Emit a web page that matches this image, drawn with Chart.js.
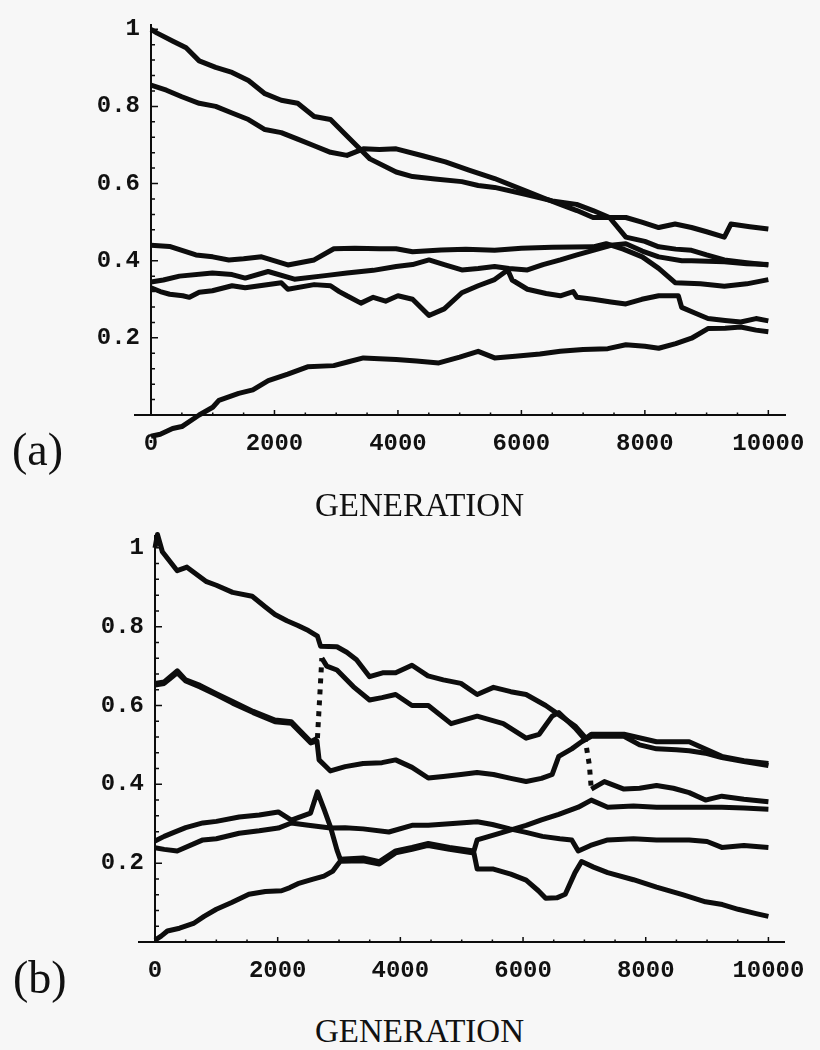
<!DOCTYPE html>
<html>
<head>
<meta charset="utf-8">
<title>Generation plots</title>
<script src="https://cdn.jsdelivr.net/npm/chart.js@4.4.1/dist/chart.umd.min.js"></script>
<style>
  html, body { margin: 0; padding: 0; background: #f7f7f7; }
  body { width: 820px; height: 1050px; position: relative; overflow: hidden; }
  canvas { position: absolute; left: 0; }
  #chartA { top: 0; }
  #chartB { top: 480px; }
  .panel { position: absolute; font-family: "Liberation Serif", serif; font-size: 46px; line-height: 1; color: #111; }
  .xtitle { position: absolute; left: 315px; font-family: "Liberation Serif", serif; font-size: 33px; line-height: 1; color: #111; }
</style>
</head>
<body>
<canvas id="chartA" width="820" height="480"></canvas>
<canvas id="chartB" width="820" height="520"></canvas>
<div class="panel" style="left:12px; top:427px;">(a)</div>
<div class="xtitle" style="top:489px;">GENERATION</div>
<div class="panel" style="left:13px; top:955px;">(b)</div>
<div class="xtitle" style="top:1015px;">GENERATION</div>

<script>
// -------- AXES --------
const xTicks = [0, 2000, 4000, 6000, 8000, 10000];
const yTicks = [0.2, 0.4, 0.6, 0.8, 1];

// -------- PANEL (a) : [generation, value] --------
const a1 = [[0,1.0],[100,0.99],[356,0.969],[569,0.952],[781,0.918],[1048,0.901],[1313,0.888],[1579,0.867],[1845,0.833],[2110,0.816],[2376,0.808],[2643,0.774],[2908,0.766],[3174,0.723],[3333,0.698],[3546,0.664],[3971,0.63],[4237,0.618],[4600,0.612],[5035,0.605],[5300,0.595],[5566,0.59],[6097,0.571],[6500,0.555],[6895,0.546],[7161,0.53],[7427,0.512],[7692,0.461],[8000,0.45],[8224,0.436],[8500,0.43],[8756,0.427],[9000,0.415],[9287,0.402],[9650,0.395],[10000,0.389]];
const a2 = [[0,0.855],[250,0.842],[500,0.825],[781,0.808],[1048,0.80],[1313,0.783],[1579,0.766],[1845,0.74],[2110,0.732],[2376,0.715],[2643,0.698],[2908,0.681],[3174,0.673],[3440,0.69],[3700,0.688],[3971,0.69],[4400,0.672],[4769,0.656],[5150,0.635],[5566,0.613],[6097,0.579],[6400,0.56],[6630,0.546],[6900,0.53],[7161,0.512],[7692,0.512],[7950,0.50],[8224,0.486],[8490,0.495],[8756,0.486],[9000,0.475],[9287,0.461],[9394,0.495],[9700,0.488],[10000,0.482]];
const a3 = [[0,0.44],[300,0.437],[728,0.415],[1000,0.41],[1260,0.402],[1500,0.405],[1791,0.41],[2217,0.389],[2643,0.402],[2962,0.431],[3300,0.432],[3705,0.431],[3971,0.431],[4237,0.423],[4700,0.428],[5100,0.43],[5566,0.427],[6000,0.432],[6500,0.435],[7161,0.436],[7374,0.444],[7650,0.43],[7958,0.41],[8224,0.38],[8490,0.343],[8900,0.34],[9287,0.334],[9650,0.34],[10000,0.351]];
const a4 = [[0,0.345],[200,0.35],[462,0.36],[994,0.368],[1313,0.364],[1526,0.355],[1898,0.372],[2323,0.352],[2855,0.362],[3174,0.368],[3600,0.375],[3971,0.385],[4237,0.39],[4503,0.402],[4750,0.39],[5035,0.376],[5300,0.38],[5566,0.385],[5800,0.38],[6097,0.376],[6350,0.39],[6630,0.402],[6900,0.415],[7161,0.427],[7450,0.44],[7692,0.444],[7958,0.425],[8224,0.41],[8600,0.40],[8756,0.40],[9287,0.397],[9650,0.392],[10000,0.39]];
const a5 = [[0,0.33],[150,0.32],[303,0.313],[515,0.309],[622,0.305],[781,0.318],[994,0.322],[1313,0.335],[1526,0.33],[2110,0.343],[2217,0.326],[2643,0.338],[2908,0.335],[3050,0.32],[3174,0.309],[3400,0.29],[3600,0.305],[3800,0.295],[4000,0.309],[4237,0.30],[4503,0.258],[4750,0.275],[5035,0.317],[5300,0.335],[5566,0.351],[5779,0.376],[5850,0.35],[6097,0.326],[6400,0.315],[6630,0.309],[6840,0.32],[6900,0.305],[7161,0.30],[7450,0.293],[7692,0.288],[7950,0.30],[8224,0.309],[8543,0.309],[8596,0.279],[8800,0.265],[9022,0.25],[9300,0.245],[9553,0.241],[9800,0.25],[10000,0.244]];
const a6 = [[0,-0.055],[150,-0.05],[350,-0.035],[500,-0.03],[780,0.0],[1000,0.02],[1100,0.038],[1420,0.056],[1650,0.065],[1900,0.089],[2216,0.106],[2536,0.125],[2960,0.128],[3200,0.138],[3440,0.148],[3700,0.146],[3971,0.144],[4300,0.14],[4662,0.135],[5000,0.15],[5300,0.165],[5566,0.148],[5900,0.152],[6300,0.158],[6630,0.165],[7000,0.17],[7400,0.172],[7692,0.182],[8000,0.178],[8224,0.173],[8500,0.185],[8756,0.199],[9022,0.224],[9300,0.225],[9553,0.228],[9800,0.22],[10000,0.216]];

// -------- PANEL (b) : [generation, value] --------
const b1 = [[0,1.0],[40,1.034],[120,0.99],[362,0.942],[521,0.951],[840,0.914],[1000,0.905],[1265,0.887],[1584,0.877],[1800,0.85],[1956,0.831],[2150,0.815],[2329,0.803],[2500,0.79],[2648,0.776],[2700,0.75],[2966,0.749],[3126,0.735],[3285,0.716],[3498,0.673],[3711,0.683],[3923,0.683],[4189,0.702],[4450,0.675],[4700,0.665],[4987,0.656],[5252,0.628],[5518,0.646],[5800,0.635],[6050,0.628],[6369,0.600],[6600,0.575],[6847,0.548],[7006,0.52],[7080,0.45],[7113,0.388],[7326,0.407],[7645,0.388],[7900,0.39],[8176,0.397],[8450,0.39],[8708,0.379],[8974,0.360],[9240,0.370],[9600,0.362],[10000,0.356]];
const b2 = [[0,0.656],[150,0.66],[362,0.688],[500,0.665],[734,0.651],[1000,0.63],[1265,0.610],[1600,0.585],[1956,0.563],[2222,0.559],[2400,0.53],[2541,0.508],[2648,0.517],[2720,0.72],[2800,0.70],[2966,0.69],[3232,0.648],[3498,0.614],[3700,0.62],[3923,0.628],[4189,0.600],[4455,0.600],[4827,0.554],[5252,0.573],[5678,0.554],[6050,0.517],[6263,0.527],[6475,0.573],[6582,0.582],[6847,0.543],[7006,0.515],[7113,0.527],[7645,0.527],[8176,0.508],[8708,0.508],[9240,0.471],[9600,0.46],[10000,0.453]];
const b3 = [[0,0.652],[150,0.656],[362,0.683],[500,0.662],[734,0.647],[1000,0.627],[1265,0.606],[1600,0.582],[1956,0.559],[2222,0.555],[2400,0.527],[2541,0.505],[2640,0.51],[2675,0.462],[2860,0.434],[3100,0.445],[3392,0.453],[3700,0.455],[3923,0.462],[4190,0.443],[4455,0.416],[4700,0.42],[4987,0.425],[5250,0.43],[5518,0.425],[5800,0.415],[6050,0.407],[6300,0.415],[6475,0.425],[6582,0.471],[6794,0.490],[6954,0.508],[7113,0.522],[7645,0.522],[7900,0.50],[8176,0.490],[8500,0.488],[8708,0.485],[9000,0.478],[9240,0.468],[9600,0.458],[10000,0.448]];
const b4 = [[0,0.256],[150,0.268],[308,0.278],[500,0.29],[780,0.302],[1000,0.306],[1372,0.317],[1700,0.322],[2010,0.330],[2222,0.309],[2536,0.327],[2648,0.381],[2760,0.335],[2860,0.292],[2967,0.233],[3020,0.210],[3392,0.213],[3658,0.204],[3923,0.231],[4190,0.240],[4455,0.250],[4800,0.24],[5199,0.231],[5252,0.259],[5600,0.275],[6050,0.296],[6300,0.31],[6582,0.324],[6900,0.342],[7113,0.360],[7380,0.342],[7800,0.345],[8176,0.342],[8700,0.342],[9240,0.342],[9600,0.34],[10000,0.337]];
const b5 = [[0,0.239],[150,0.235],[362,0.231],[780,0.259],[1000,0.262],[1372,0.276],[1700,0.282],[2010,0.289],[2222,0.302],[2500,0.296],[2860,0.289],[3100,0.29],[3392,0.287],[3812,0.279],[4190,0.296],[4455,0.296],[4800,0.30],[5252,0.305],[5500,0.298],[5785,0.287],[6050,0.278],[6316,0.268],[6600,0.262],[6794,0.259],[6900,0.231],[7100,0.245],[7380,0.259],[7800,0.262],[8176,0.259],[8708,0.259],[9000,0.255],[9240,0.240],[9600,0.245],[10000,0.240]];
const b6 = [[0,0.005],[100,0.015],[202,0.028],[400,0.035],[627,0.047],[800,0.065],[1000,0.083],[1250,0.10],[1531,0.121],[1800,0.128],[2063,0.130],[2200,0.138],[2329,0.148],[2550,0.158],[2754,0.167],[2900,0.18],[2967,0.194],[3020,0.205],[3392,0.206],[3658,0.198],[3923,0.226],[4190,0.235],[4455,0.245],[4800,0.235],[5199,0.226],[5252,0.185],[5518,0.185],[5800,0.172],[6050,0.157],[6250,0.13],[6369,0.111],[6550,0.112],[6688,0.121],[6847,0.176],[6954,0.204],[7150,0.19],[7380,0.176],[7800,0.158],[8176,0.139],[8600,0.12],[8974,0.102],[9250,0.095],[9506,0.083],[9800,0.072],[10000,0.065]];

// -------- STYLE --------
const ink = '#0d0d0d';
const tickFont = { family: '"Liberation Mono", "DejaVu Sans Mono", monospace', size: 24, weight: 'bold' };
const jumpDy = 0.06; // very fast changes drawn dotted, like the original plot

// inward tick marks + the little stub of x axis left of the y axis
const inwardTicks = {
  id: 'inwardTicks',
  afterDraw(chart) {
    const { ctx, scales: { x, y } } = chart;
    const x0 = x.getPixelForValue(0);
    const y0 = y.getPixelForValue(0);
    ctx.save();
    ctx.strokeStyle = ink;

    ctx.lineWidth = 2;
    ctx.beginPath();
    ctx.moveTo(x0 - 17, y0);
    ctx.lineTo(x0, y0);
    ctx.stroke();

    ctx.lineWidth = 1.5;
    ctx.beginPath();
    for (let i = 1; i <= 25; i++) {
      const v = i * 0.04;
      const py = y.getPixelForValue(v);
      ctx.moveTo(x0, py);
      ctx.lineTo(x0 + (i % 5 === 0 ? 7 : 4), py);
    }
    for (let i = 1; i <= 20; i++) {
      const px = x.getPixelForValue(i * 500);
      ctx.moveTo(px, y0);
      ctx.lineTo(px, y0 - (i % 4 === 0 ? 5 : 2.5));
    }
    ctx.stroke();
    ctx.restore();
  }
};

function toPoints(pairs) {
  return pairs.map(([x, y]) => ({ x, y }));
}

function makeChart(canvas, series, yMax, axisLeft, axisHeight, padTop, padRight, dotted) {
  return new Chart(canvas, {
    type: 'line',
    data: {
      datasets: series.map(s => ({
        data: toPoints(s),
        borderColor: ink,
        borderWidth: 5,
        pointRadius: 0,
        tension: 0,
        fill: false,
        clip: false,
        borderJoinStyle: 'round',
        borderCapStyle: 'butt',
        segment: dotted ? {
          borderDash: ctx => Math.abs(ctx.p1.parsed.y - ctx.p0.parsed.y) >= jumpDy ? [5, 6] : undefined
        } : {}
      }))
    },
    options: {
      responsive: false,
      animation: false,
      events: [],
      layout: { padding: { top: padTop, right: padRight, left: 0, bottom: 0 } },
      plugins: { legend: { display: false }, tooltip: { enabled: false } },
      scales: {
        x: {
          type: 'linear',
          position: 'bottom',
          min: 0,
          max: 10270,
          afterFit: s => { s.height = axisHeight; },
          afterBuildTicks: s => { s.ticks = xTicks.map(value => ({ value })); },
          grid: { display: false, drawTicks: false },
          border: { display: true, color: ink, width: 2 },
          ticks: {
            color: '#111', font: tickFont, padding: 15,
            autoSkip: false, maxRotation: 0,
            callback: v => String(v)
          }
        },
        y: {
          type: 'linear',
          position: 'left',
          min: 0,
          max: yMax,
          afterFit: s => { s.width = axisLeft; },
          afterBuildTicks: s => { s.ticks = yTicks.map(value => ({ value })); },
          grid: { display: false, drawTicks: false },
          border: { display: true, color: ink, width: 2 },
          ticks: {
            color: '#111', font: tickFont, padding: 11,
            callback: v => (v === 1 ? '1' : v.toFixed(1))
          }
        }
      }
    },
    plugins: [inwardTicks]
  });
}

// -------- DRAW --------
makeChart(document.getElementById('chartA'), [a1, a2, a3, a4, a5, a6], 1.01, 151, 65, 17, 25, false);
makeChart(document.getElementById('chartB'), [b1, b2, b3, b4, b5, b6], 1.03, 155, 58, 56, 22, true);
</script>
</body>
</html>
